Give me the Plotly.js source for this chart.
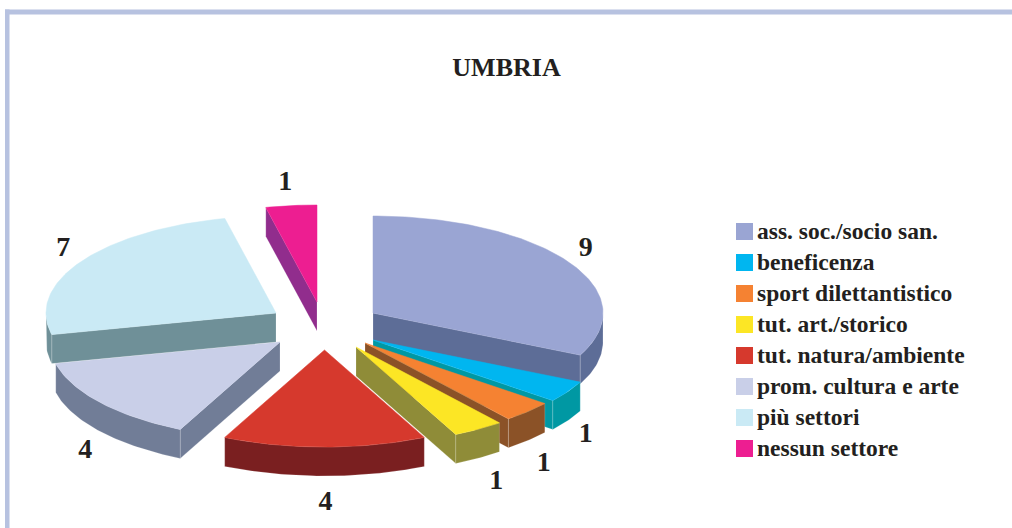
<!DOCTYPE html>
<html>
<head>
<meta charset="utf-8">
<script src="https://cdn.plot.ly/plotly-3.0.1.min.js"></script>
<style>html,body{margin:0;padding:0;background:#fff}#chart{width:1012px;height:528px}</style>
</head>
<body>
<div id="chart"></div>
<script>
// Data
const categories = ["ass. soc./socio san.","beneficenza","sport dilettantistico","tut. art./storico","tut. natura/ambiente","prom. cultura e arte","più settori","nessun settore"];
const values = [9,1,1,1,4,4,7,1];
const topColors = ["#9aa5d3","#00b6f0","#f58232","#fce625","#d6392d","#c9cfe8","#caeaf5","#ed1e91"];
const wallColors = ["#5d6d97","#0098a3","#8b5227","#8f8c38","#7a1f20","#717d97","#6f9098","#912d8d"];

// Layout of the exploded pie (pixel-scaled axes)
const apexX = [373,373,365,356,324.5,280,276,317];
const apexY = [313,340,343,347,350,342,313,302];
const labelDX = [18,18,16,18,1,-15,-18,-6];
const labelDY = [-12.5,43.5,52.5,52.5,55.5,49,-12.5,-22.5];
const paintOrder = [0,1,2,3,7,5,6,4];
const RX = 230, RY = 97, DEPTH = 29;
const FONT = '"Liberation Serif", serif', INK = "#231f20";

const total = values.reduce((a,b)=>a+b,0);
const starts = []; let acc = 0;
values.forEach(v=>{starts.push(acc/total*360); acc+=v;});
const rad = d=>d*Math.PI/180;
const rimX = (i,a)=>apexX[i]+RX*Math.sin(rad(a));
const rimY = (i,a)=>apexY[i]-RY*Math.cos(rad(a));
function arc(i,a0,a1,dy){
  const xs=[],ys=[],n=Math.max(2,Math.ceil(Math.abs(a1-a0)));
  for(let k=0;k<=n;k++){const a=a0+(a1-a0)*k/n;xs.push(rimX(i,a));ys.push(rimY(i,a)+dy);}
  return [xs,ys];
}
function poly(xs,ys,fill,line,width,name){
  return {type:"scatter",mode:"lines",x:xs.concat([xs[0]]),y:ys.concat([ys[0]]),fill:"toself",fillcolor:fill,
    line:{color:line,width:width},hoverinfo:"text",text:name,showlegend:false,name:name};
}
const traces=[];
paintOrder.forEach(i=>{
  const a0=starts[i],a1=a0+values[i]/total*360,name=categories[i]+": "+values[i];
  const ax=apexX[i],ay=apexY[i];
  const edge="rgba(255,255,255,0.35)";
  // radial wall
  if(a1<=180){
    traces.push(poly([ax,rimX(i,a1),rimX(i,a1),ax],[ay,rimY(i,a1),rimY(i,a1)+DEPTH,ay+DEPTH],wallColors[i],edge,0.5,name));
  } else if(a0>=180){
    traces.push(poly([ax,rimX(i,a0),rimX(i,a0),ax],[ay,rimY(i,a0),rimY(i,a0)+DEPTH,ay+DEPTH],wallColors[i],edge,0.5,name));
  }
  // outer wall
  const w0=Math.max(a0,90),w1=Math.min(a1,270);
  if(w1>w0){
    const [tx,ty]=arc(i,w0,w1,0),[bx,by]=arc(i,w1,w0,DEPTH);
    traces.push(poly(tx.concat(bx),ty.concat(by),wallColors[i],edge,0.5,name));
  }
  // top face
  const [x,y]=arc(i,a0,a1,0);
  traces.push(poly([ax].concat(x),[ay].concat(y),topColors[i],topColors[i],0.5,name));
});

// Value labels
traces.push({type:"scatter",mode:"text",
  x:values.map((v,i)=>rimX(i,starts[i]+v/total*180)+labelDX[i]),
  y:values.map((v,i)=>rimY(i,starts[i]+v/total*180)+labelDY[i]),
  text:values.map(String),textposition:"middle center",
  textfont:{family:FONT,size:28,color:INK,weight:700},hoverinfo:"skip",showlegend:false});

// Legend
const legX=744.5,legTextX=757,legY0=231.5,legStep=31,legTextDY=1.5;
const legYs=categories.map((c,i)=>legY0+i*legStep);
traces.push({type:"scatter",mode:"markers",x:categories.map(()=>legX),y:legYs,
  marker:{symbol:"square",size:17,color:topColors,line:{width:0}},hoverinfo:"skip",showlegend:false});
traces.push({type:"scatter",mode:"text",x:categories.map(()=>legTextX),y:legYs.map(y=>y+legTextDY),text:categories,textposition:"middle right",
  textfont:{family:FONT,size:23.5,color:INK,weight:700},hoverinfo:"skip",showlegend:false});

const layout={
  width:1012,height:528,margin:{l:0,r:0,t:0,b:0},paper_bgcolor:"#fff",plot_bgcolor:"#fff",showlegend:false,
  title:{text:"<b>UMBRIA</b>",x:0.5005,xanchor:"center",y:0.873,yanchor:"middle",font:{family:FONT,size:26,color:INK}},
  xaxis:{range:[0,1012],visible:false,fixedrange:true},
  yaxis:{range:[528,0],visible:false,fixedrange:true},
  shapes:[
    {type:"rect",layer:"below",xref:"x",yref:"y",x0:5,x1:1012,y0:9.5,y1:14.5,fillcolor:"#b7c2e0",line:{width:0}},
    {type:"rect",layer:"below",xref:"x",yref:"y",x0:5,x1:9.5,y0:9.5,y1:528,fillcolor:"#b7c2e0",line:{width:0}}
  ]
};
Plotly.newPlot("chart",traces,layout,{displayModeBar:false});
</script>
</body>
</html>
